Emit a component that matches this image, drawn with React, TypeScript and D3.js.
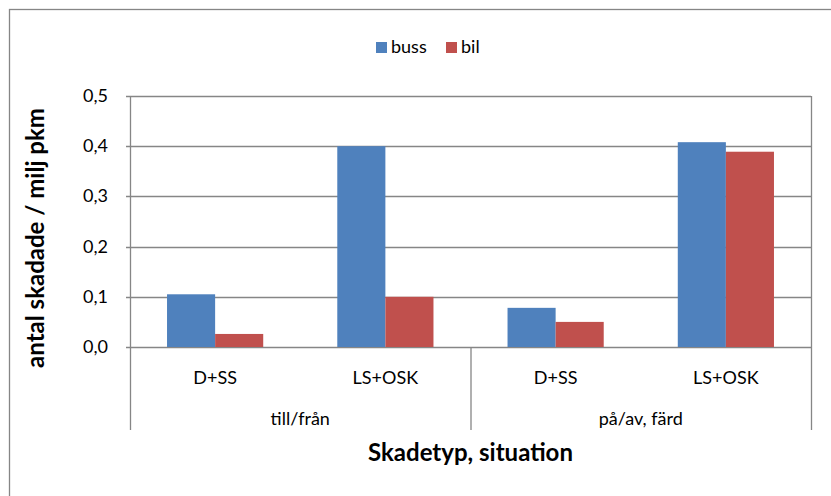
import React from "react";
import * as d3 from "d3";

const groups = ["till/från", "på/av, färd"];
const subCategories = ["D+SS", "LS+OSK"];
const seriesNames = ["buss", "bil"];
const bussValues = [0.105, 0.4, 0.078, 0.408];
const bilValues = [0.026, 0.1, 0.05, 0.389];
const yTicks = [0, 0.1, 0.2, 0.3, 0.4, 0.5];
const yTitle = "antal skadade / milj pkm";
const xTitle = "Skadetyp, situation";

const colors = ["#4F81BD", "#C0504D"];
const W = 831, H = 496;
const left = 130, right = 811, top = 96, bottom = 347;
const catBottom = 430;
const FONT = "Lato, 'Open Sans', sans-serif";
const GRID = "#868686";

export default function App() {
  const categories: string[] = [];
  groups.forEach((g, gi) => subCategories.forEach((s) => categories.push(`${gi}|${s}`)));
  const x = d3.scaleBand<string>().domain(categories).range([left, right]).paddingInner(0).paddingOuter(0);
  const inner = d3.scaleBand<string>().domain(seriesNames).range([0, x.bandwidth()]).paddingInner(0).paddingOuter(0.77);
  const y = d3.scaleLinear().domain([0, 0.5]).range([bottom, top]);
  const allVals = [bussValues, bilValues];
  const groupW = (right - left) / groups.length;

  return (
    <svg width={W} height={H} style={{ position: "absolute", left: 0, top: 0, background: "#fff" }} fontFamily={FONT}>
      <rect x={9.5} y={9.5} width={W + 10} height={H + 10} fill="#fff" stroke={GRID} strokeWidth={1.3} />
      {/* legend */}
      <rect x={376} y={42} width={11} height={11} fill={colors[0]} />
      <text x={391} y={53} fontSize={18} fill="#000">{seriesNames[0]}</text>
      <rect x={446} y={42} width={11} height={11} fill={colors[1]} />
      <text x={461} y={53} fontSize={18} fill="#000">{seriesNames[1]}</text>
      {/* grid */}
      {yTicks.map((t) => (
        <g key={t}>
          <line x1={left - 4} x2={right} y1={Math.round(y(t)) + 0.5} y2={Math.round(y(t)) + 0.5} stroke={GRID} strokeWidth={1.3} />
          <text x={108} y={y(t) + 6} fontSize={18} textAnchor="end" fill="#000">
            {d3.format(".1f")(t).replace(".", ",")}
          </text>
        </g>
      ))}
      <line x1={left + 0.5} x2={left + 0.5} y1={top} y2={catBottom} stroke={GRID} strokeWidth={1.3} />
      <line x1={right + 0.5} x2={right + 0.5} y1={top} y2={catBottom} stroke={GRID} strokeWidth={1.3} />
      <line x1={left + groupW + 0.5} x2={left + groupW + 0.5} y1={bottom} y2={catBottom} stroke={GRID} strokeWidth={1.3} />
      {/* bars */}
      {categories.map((c, ci) =>
        seriesNames.map((s, si) => {
          const v = allVals[si][ci];
          const bx = (x(c) as number) + (inner(s) as number);
          return (
            <rect key={c + s} x={bx} y={y(v)} width={inner.bandwidth()} height={bottom - y(v)} fill={colors[si]} />
          );
        })
      )}
      {/* category labels */}
      {categories.map((c) => (
        <text key={c} x={(x(c) as number) + x.bandwidth() / 2} y={384} fontSize={18} textAnchor="middle" fill="#000">
          {c.split("|")[1]}
        </text>
      ))}
      {groups.map((g, gi) => (
        <text key={g} x={left + groupW * (gi + 0.5)} y={425} fontSize={18} textAnchor="middle" fill="#000">
          {g}
        </text>
      ))}
      <text x={(left + right) / 2} y={461} fontSize={24} fontWeight="bold" textAnchor="middle" fill="#000">
        {xTitle}
      </text>
      <text transform={`translate(44, 238) rotate(-90)`} fontSize={24} fontWeight="bold" textAnchor="middle" fill="#000">
        {yTitle}
      </text>
    </svg>
  );
}
